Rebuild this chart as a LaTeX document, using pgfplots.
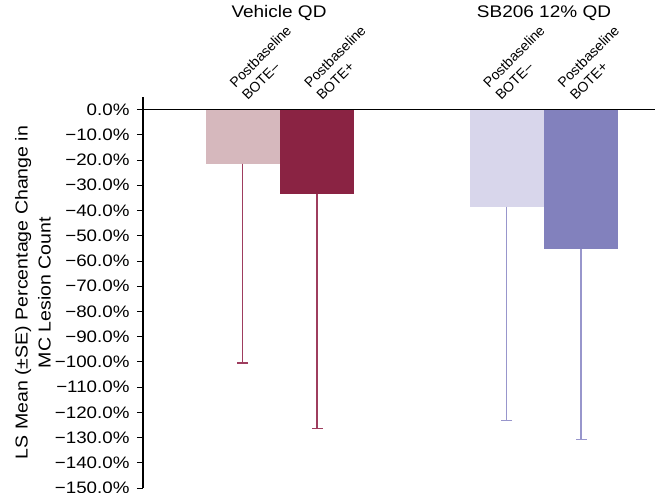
\documentclass[border=0pt]{standalone}
\usepackage{fontspec}
\setmainfont{Liberation Sans}[FakeStretch=1.13]
\newfontfamily\plainsans{Liberation Sans}
\usepackage{pgfplots}
\pgfplotsset{compat=1.18}
\definecolor{c1}{HTML}{D6B8BD}
\definecolor{c2}{HTML}{8A2343}
\definecolor{c3}{HTML}{D8D6EB}
\definecolor{c4}{HTML}{8281BD}
\definecolor{e1}{HTML}{9E3D5E}
\definecolor{e3}{HTML}{9896CC}
\begin{document}
\begin{tikzpicture}[x=1bp,y=1bp]
\useasboundingbox (-143,-5) rectangle (512,488);
\begin{axis}[
  at={(0,0)}, anchor=south west,
  scale only axis, width=512bp, height=391bp,
  xmin=0, xmax=512, ymin=-150, ymax=5,
  enlargelimits=false,
  axis y line=left, axis x line=middle,
  axis line style={-, black, line width=1.1bp},
  hide obscured y ticks=false,
  xtick=\empty,
  ytick={-150,-140,...,0},
  yticklabels={−150.0\%,−140.0\%,−130.0\%,−120.0\%,−110.0\%,−100.0\%,−90.0\%,−80.0\%,−70.0\%,−60.0\%,−50.0\%,−40.0\%,−30.0\%,−20.0\%,−10.0\%,0.0\%},
  tick align=outside, major tick length=6bp,
  tick style={black, line width=0.9bp},
  yticklabel style={font=\fontsize{16.6bp}{19bp}\selectfont, xshift=-4bp},
  ylabel={LS Mean (±SE) Percentage Change in\\MC Lesion Count},
  ylabel style={at={(axis description cs:-0.2148,0.5)}, anchor=center, align=center, font=\fontsize{17.3bp}{23bp}\selectfont},
  clip=false,
]
\addplot[ybar, bar width=74, bar shift=0pt, fill=c1, draw=none,
  error bars/.cd, y dir=minus, y explicit,
  error bar style={color=e1, line width=1.3bp},
  error mark options={rotate=90, mark size=5.5bp, line width=1.3bp, color=e1}]
  coordinates {(99.5,-21.4) +- (0,79.0)};
\addplot[ybar, bar width=74, bar shift=0pt, fill=c2, draw=none,
  error bars/.cd, y dir=minus, y explicit,
  error bar style={color=e1, line width=1.3bp},
  error mark options={rotate=90, mark size=5.5bp, line width=1.3bp, color=e1}]
  coordinates {(174,-33.3) +- (0,93.0)};
\addplot[ybar, bar width=74, bar shift=0pt, fill=c3, draw=none,
  error bars/.cd, y dir=minus, y explicit,
  error bar style={color=e3, line width=1.3bp},
  error mark options={rotate=90, mark size=5.5bp, line width=1.3bp, color=e3}]
  coordinates {(363.5,-38.6) +- (0,84.6)};
\addplot[ybar, bar width=74, bar shift=0pt, fill=c4, draw=none,
  error bars/.cd, y dir=minus, y explicit,
  error bar style={color=e3, line width=1.3bp},
  error mark options={rotate=90, mark size=5.5bp, line width=1.3bp, color=e3}]
  coordinates {(438,-55.2) +- (0,75.5)};
\draw[black, line width=1.1bp] (axis cs:0,0) -- (axis cs:512,0);
\end{axis}
\begin{scope}[every node/.style={font=\fontsize{16.8bp}{20bp}\selectfont, inner sep=0pt}]
\node[anchor=base] at (136,470.5) {Vehicle QD};
\node[anchor=base] at (401,470.5) {SB206 12\% QD};
\end{scope}
\begin{scope}[every node/.style={font=\plainsans\fontsize{14bp}{17.5bp}\selectfont, inner sep=0pt, rotate=45, anchor=south west, align=left}]
\node at (105,387) {Postbaseline\\BOTE–};
\node at (179.5,387) {Postbaseline\\BOTE+};
\node at (358.5,387) {Postbaseline\\BOTE–};
\node at (433,387) {Postbaseline\\BOTE+};
\end{scope}
\end{tikzpicture}
\end{document}
